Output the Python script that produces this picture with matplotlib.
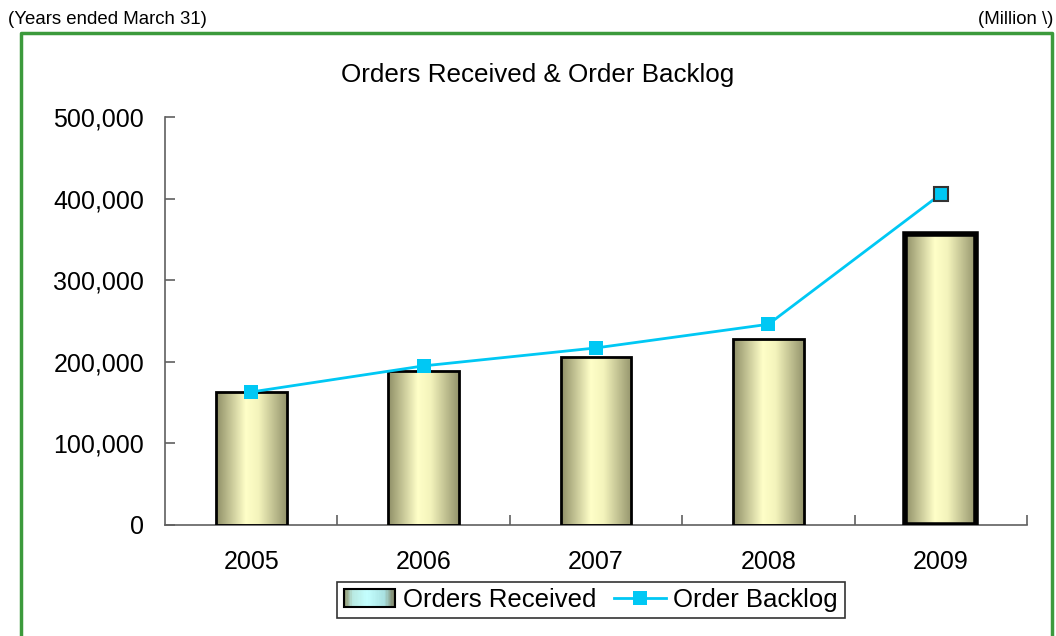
import numpy as np
import matplotlib
matplotlib.use("Agg")
import matplotlib.pyplot as plt
from matplotlib.colors import LinearSegmentedColormap
from matplotlib.patches import Rectangle
from matplotlib.legend_handler import HandlerBase
from matplotlib.lines import Line2D
from matplotlib.ticker import FuncFormatter

plt.rcParams['font.family'] = ['Liberation Sans', 'DejaVu Sans']

years = ['2005', '2006', '2007', '2008', '2009']
orders_received = [163000, 188500, 205500, 228000, 356500]
order_backlog = [163000, 195000, 217000, 246000, 405500]

bar_cmap = LinearSegmentedColormap.from_list(
    'olive', [(0.0, '#8e8e66'), (0.42, '#ffffc8'), (0.6, '#f4f4bc'), (1.0, '#94946c')])
leg_cmap = LinearSegmentedColormap.from_list(
    'cyanish', [(0.0, '#8e8e66'), (0.15, '#b8e8e0'), (0.45, '#c4ffff'), (0.8, '#a8e0e0'), (1.0, '#7a7a5a')])
line_col = '#00c8f4'

fig = plt.figure(figsize=(10.56, 6.36), dpi=100)
ax = fig.add_axes([165 / 1056, 1 - 525 / 636, 862 / 1056, 408 / 636])

x = np.arange(len(years))
width = 0.41
grad = np.linspace(0, 1, 256).reshape(1, -1)
for i, v in enumerate(orders_received):
    lw = 4 if i == len(years) - 1 else 2
    rect = Rectangle((x[i] - width / 2, 0), width, v, facecolor='none',
                     edgecolor='black', linewidth=lw, zorder=3)
    ax.add_patch(rect)
    im = ax.imshow(grad, cmap=bar_cmap, aspect='auto', zorder=2,
                   extent=(x[i] - width / 2, x[i] + width / 2, 0, v))
    im.set_clip_path(rect)

ax.plot(x, order_backlog, color=line_col, linewidth=2, marker='s',
        markersize=10, markeredgewidth=0, zorder=4, markevery=[0, 1, 2, 3])
ax.plot(x[-1:], order_backlog[-1:], linestyle='none', marker='s', markersize=10,
        markerfacecolor=line_col, markeredgecolor='#333333', markeredgewidth=1.5, zorder=4)

ax.set_xlim(-0.5, len(years) - 0.5)
ax.set_ylim(0, 500000)
ax.set_yticks(np.arange(0, 500001, 100000))
ax.yaxis.set_major_formatter(FuncFormatter(lambda v, p: f'{int(v):,}'))
ax.set_xticks(x)
ax.set_xticklabels(years)
ax.set_xticks(np.arange(0.5, len(years), 1), minor=True)
for s in ['top', 'right']:
    ax.spines[s].set_visible(False)
for s in ['left', 'bottom']:
    ax.spines[s].set_color('#606060')
    ax.spines[s].set_linewidth(1.2)
ax.tick_params(axis='y', direction='in', length=7, width=1.2, color='#606060',
               labelsize=18, pad=15)
ax.tick_params(axis='x', which='major', length=0, labelsize=18, pad=18)
ax.tick_params(axis='x', which='minor', direction='in', length=7, width=1.2, color='#606060')

fig.text(538 / 1056, 1 - 75 / 636, 'Orders Received & Order Backlog',
         fontsize=18.7, ha='center', va='center')
fig.text(8 / 1056, 1 - 20 / 636, '(Years ended March 31)', fontsize=13.4,
         ha='left', va='center')
fig.text(1053 / 1056, 1 - 20 / 636, '(Million \\)', fontsize=13.4,
         ha='right', va='center')

# green frame (bottom runs off the picture)
gc = '#3c9a3c'
fig.add_artist(Line2D([21 / 1056, 21 / 1056, 1052 / 1056, 1052 / 1056],
                      [0, 1 - 33 / 636, 1 - 33 / 636, 0], color=gc, linewidth=2.5,
                      transform=fig.transFigure))


class GradientPatchHandler(HandlerBase):
    def create_artists(self, legend, orig_handle, xdescent, ydescent,
                       width, height, fontsize, trans):
        arts = []
        n = 40
        for k in range(n):
            r = Rectangle((k * width / n, -ydescent), width / n + 0.3, height,
                          facecolor=leg_cmap(k / (n - 1)), edgecolor='none', transform=trans)
            arts.append(r)
        arts.append(Rectangle((0, -ydescent), width, height, facecolor='none',
                              edgecolor='black', linewidth=1.5, transform=trans))
        return arts


bar_handle = Rectangle((0, 0), 1, 1)
line_handle = Line2D([], [], color=line_col, linewidth=2, marker='s', markersize=10,
                     markeredgewidth=0)
leg = fig.legend([bar_handle, line_handle], ['Orders Received', 'Order Backlog'],
                 handler_map={Rectangle: GradientPatchHandler()},
                 loc='center', bbox_to_anchor=(591 / 1056, 1 - 600 / 636), ncol=2,
                 fontsize=18.5, frameon=True, fancybox=False, edgecolor='black',
                 handlelength=2.0, handletextpad=0.3, columnspacing=0.7,
                 borderpad=0.25, borderaxespad=0)
leg.get_frame().set_linewidth(1.2)

fig.savefig('out.png', dpi=100)
